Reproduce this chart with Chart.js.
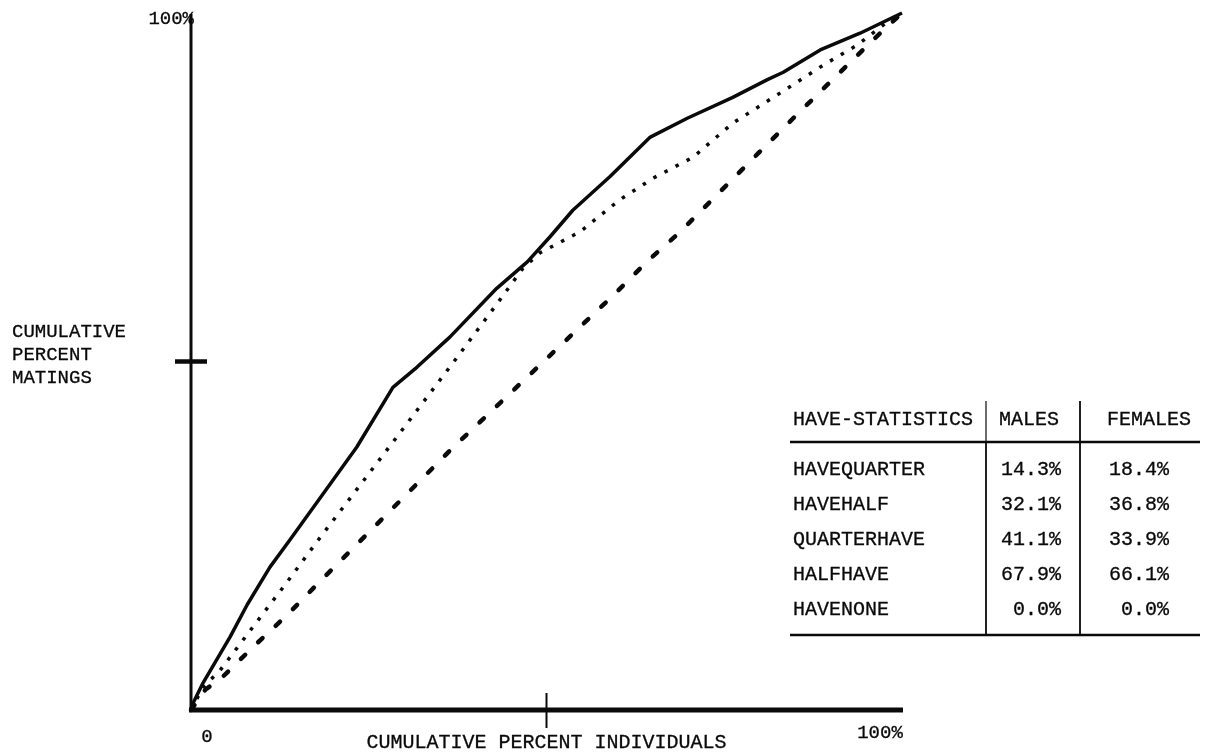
<!DOCTYPE html>
<html>
<head>
<meta charset="utf-8">
<script src="https://cdn.jsdelivr.net/npm/chart.js@4.4.1/dist/chart.umd.min.js"></script>
<style>
  html, body { margin: 0; padding: 0; background: #ffffff; }
  #wrap { position: relative; width: 1206px; height: 755px; }
  canvas { display: block; }
</style>
</head>
<body>
<div id="wrap"><canvas id="lorenz" width="1206" height="755"></canvas></div>
<script>
// Cumulative percent of individuals (x) against cumulative percent of matings (y)
const solidX  = [0, 0.3, 1.7, 5.5, 7.9, 11.1, 13.9, 23.3, 28.4, 31.8, 36.4, 43.0, 47.3, 50.5, 53.7, 58.9, 64.6, 69.8, 76.2, 81.0, 83.3, 88.5, 94.1, 100];
const solidY  = [0, 1.0, 3.9, 10.5, 15.1, 20.5, 24.4, 37.7, 46.3, 49.2, 53.5, 60.5, 64.3, 67.9, 71.7, 76.5, 82.2, 84.9, 87.9, 90.4, 91.5, 94.7, 97.1, 100];

const dottedX = [0, 1.7, 4.1, 8.7, 13.4, 17.9, 28.3, 36.4, 43.2, 46.7, 49.1, 54.7, 60.3, 65.0, 70.6, 76.2, 83.3, 88.9, 93.7, 98.3, 100];
const dottedY = [0, 3.3, 5.7, 11.9, 18.2, 24.4, 38.3, 49.2, 58.5, 63.4, 65.6, 68.6, 73.2, 76.3, 79.3, 84.2, 88.8, 92.5, 95.4, 99.0, 100];

const dashedX = [0, 2.0, 4.4, 9.0, 13.5, 17.9, 36.8, 59.4, 64.1, 68.8, 80.0, 84.7, 96.2, 100];
const dashedY = [0, 2.9, 4.7, 9.3, 13.6, 18.2, 37.6, 59.5, 64.3, 68.6, 80.1, 84.9, 96.4, 100];

// Axis labels
const yTopLabel = '100%';
const yTitleLines = ['CUMULATIVE', 'PERCENT', 'MATINGS'];
const xStartLabel = '0';
const xEndLabel = '100%';
const xTitle = 'CUMULATIVE PERCENT INDIVIDUALS';

// Summary table
const tableHeaders = ['HAVE-STATISTICS', 'MALES', 'FEMALES'];
const statNames  = ['HAVEQUARTER', 'HAVEHALF', 'QUARTERHAVE', 'HALFHAVE', 'HAVENONE'];
const malesPct   = [14.3, 32.1, 41.1, 67.9, 0.0];
const femalesPct = [18.4, 36.8, 33.9, 66.1, 0.0];

const INK = '#0a0a0a';
const FONT = '"Liberation Mono", "DejaVu Sans Mono", monospace';

const toPoints = (xs, ys) => xs.map((x, i) => ({ x: x, y: ys[i] }));

// typewriter-weight text: fill plus a thin outline
function inkText(ctx, text, x, y) {
  ctx.fillText(text, x, y);
  ctx.strokeText(text, x, y);
}

// Axes, ticks, labels and the summary table drawn on top of the plot
const frame = {
  id: 'frame',
  afterDraw(chart) {
    const ctx = chart.ctx;
    const xs = chart.scales.x, ys = chart.scales.y;
    const x0 = xs.getPixelForValue(0), x100 = xs.getPixelForValue(100), x50 = xs.getPixelForValue(50);
    const y0 = ys.getPixelForValue(0), y100 = ys.getPixelForValue(100), y50 = ys.getPixelForValue(50);
    ctx.save();
    ctx.strokeStyle = INK;
    ctx.fillStyle = INK;
    ctx.lineCap = 'butt';

    // vertical axis
    ctx.lineWidth = 3;
    ctx.beginPath(); ctx.moveTo(x0, y100 + 1); ctx.lineTo(x0, y0 + 2); ctx.stroke();
    // horizontal axis
    ctx.lineWidth = 5;
    ctx.beginPath(); ctx.moveTo(x0 - 2, y0); ctx.lineTo(x100 + 1, y0); ctx.stroke();
    // mid ticks
    ctx.lineWidth = 4.5;
    ctx.beginPath(); ctx.moveTo(x0 - 16, y50); ctx.lineTo(x0 + 16, y50); ctx.stroke();
    ctx.lineWidth = 2;
    ctx.beginPath(); ctx.moveTo(x50, y0 - 17); ctx.lineTo(x50, y0 + 18); ctx.stroke();

    // axis text
    ctx.lineWidth = 0.3;
    ctx.font = '19px ' + FONT;
    ctx.textBaseline = 'middle';
    ctx.textAlign = 'right';
    inkText(ctx, yTopLabel, x0 + 3, y100 + 6);
    ctx.textAlign = 'left';
    yTitleLines.forEach((t, i) => inkText(ctx, t, 12, 332 + i * 23));
    ctx.textAlign = 'center';
    inkText(ctx, xStartLabel, x0 + 16, y0 + 27);
    inkText(ctx, xEndLabel, x100 - 22, y0 + 23);
    ctx.font = '20px ' + FONT;
    inkText(ctx, xTitle, x50, y0 + 33);

    // summary table
    const tl = 790, tr = 1200, c1 = 986, c2 = 1080;
    const headY = 420, ruleY = 442, rowY0 = 470, rowStep = 35, botY = 635;
    ctx.font = '20px ' + FONT;
    ctx.textAlign = 'left';
    inkText(ctx, tableHeaders[0], 793, headY);
    ctx.textAlign = 'center';
    inkText(ctx, tableHeaders[1], 1029, headY);
    inkText(ctx, tableHeaders[2], 1149, headY);
    statNames.forEach((name, i) => {
      const y = rowY0 + i * rowStep;
      ctx.textAlign = 'left';
      inkText(ctx, name, 793, y);
      ctx.textAlign = 'right';
      inkText(ctx, malesPct[i].toFixed(1) + '%', 1061, y);
      inkText(ctx, femalesPct[i].toFixed(1) + '%', 1169, y);
    });
    ctx.lineWidth = 2.5;
    ctx.beginPath(); ctx.moveTo(tl, ruleY); ctx.lineTo(tr, ruleY); ctx.stroke();
    ctx.beginPath(); ctx.moveTo(tl, botY); ctx.lineTo(tr, botY); ctx.stroke();
    ctx.lineWidth = 1.2;
    ctx.beginPath(); ctx.moveTo(c1, 401); ctx.lineTo(c1, ruleY); ctx.stroke();
    ctx.lineWidth = 1.8;
    ctx.beginPath(); ctx.moveTo(c1, ruleY); ctx.lineTo(c1, botY); ctx.stroke();
    ctx.beginPath(); ctx.moveTo(c2, 401); ctx.lineTo(c2, botY); ctx.stroke();
    ctx.restore();
  }
};

new Chart(document.getElementById('lorenz'), {
  type: 'line',
  data: {
    datasets: [
      { data: toPoints(solidX, solidY), borderColor: INK, borderWidth: 3.5, borderJoinStyle: 'round', pointRadius: 0, tension: 0, clip: false },
      { data: toPoints(dottedX, dottedY), borderColor: INK, borderWidth: 3.5, borderDash: [3.5, 9], borderCapStyle: 'butt', pointRadius: 0, tension: 0, clip: false },
      { data: toPoints(dashedX, dashedY), borderColor: INK, borderWidth: 4.5, borderDash: [6, 18], borderCapStyle: 'round', pointRadius: 0, tension: 0, clip: false }
    ]
  },
  options: {
    responsive: false,
    animation: false,
    layout: { padding: { left: 191, right: 304, top: 13, bottom: 45 } },
    scales: {
      x: { type: 'linear', min: 0, max: 100, display: false },
      y: { type: 'linear', min: 0, max: 100, display: false }
    },
    plugins: { legend: { display: false }, tooltip: { enabled: false } }
  },
  plugins: [frame]
});
</script>
</body>
</html>
